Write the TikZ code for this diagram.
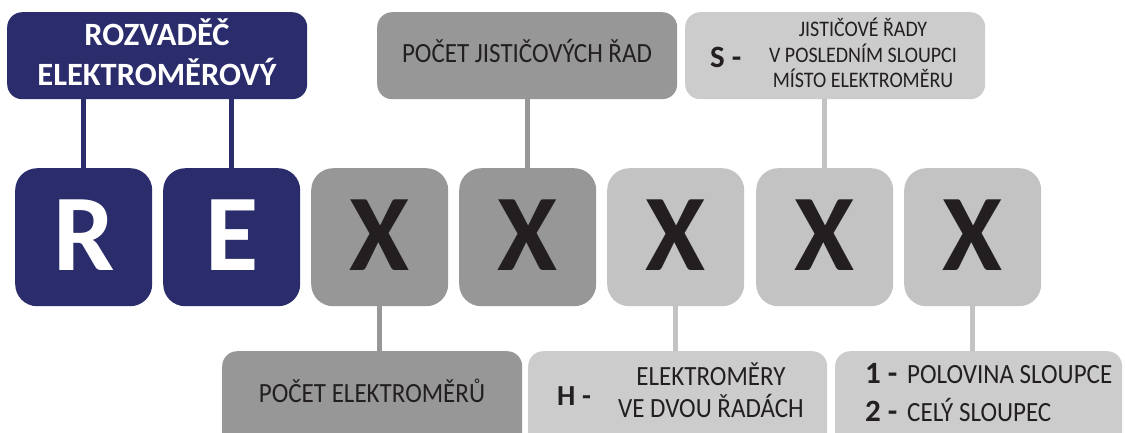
\documentclass[tikz,border=0pt]{standalone}
\usepackage{fontspec}
\setmainfont{Carlito}
\newfontfamily\condfont{Carlito}[FakeStretch=0.9]
\definecolor{navy}{HTML}{2A2C6B}
\definecolor{dgray}{HTML}{979797}
\definecolor{lgray}{HTML}{C3C3C3}
\definecolor{pgray}{HTML}{CCCCCC}
\definecolor{ink}{HTML}{231F20}
\tikzset{
  letterbox/.style={rounded corners=22pt, minimum width=137pt, minimum height=138pt, inner sep=0pt, anchor=north west},
  labelbox/.style={rounded corners=15pt, inner sep=0pt, anchor=north west},
  bigletter/.style={anchor=base, inner sep=0pt, font=\bfseries\fontsize{109}{109}\selectfont},
  txt/.style={inner sep=0pt, text=ink, font=\condfont\fontsize{27.8}{27.8}\selectfont},
  smalltxt/.style={inner sep=0pt, text=ink, font=\condfont\fontsize{22.2}{22.2}\selectfont},
  boldtxt/.style={inner sep=0pt, text=ink, anchor=base west, font=\bfseries\fontsize{31}{31}\selectfont},
  conn/.style={line width=4.5pt}
}
\begin{document}
\begin{tikzpicture}[x=1pt,y=-1pt]
\useasboundingbox (0,0) rectangle (1125,432);
% top label boxes
\node[labelbox, fill=navy, minimum width=300pt, minimum height=87pt] (title) at (7,12) {};
\node[labelbox, fill=dgray, minimum width=300pt, minimum height=87pt] (jist) at (377,12) {};
\node[labelbox, fill=pgray, minimum width=300pt, minimum height=87pt] (sbox) at (685,12) {};
% letter boxes
\node[letterbox, fill=navy] (r) at (15,168) {};
\node[letterbox, fill=navy] (e) at (163,168) {};
\node[letterbox, fill=dgray] (x1) at (311,168) {};
\node[letterbox, fill=dgray] (x2) at (459,168) {};
\node[letterbox, fill=lgray] (x3) at (607,168) {};
\node[letterbox, fill=lgray] (x4) at (756,168) {};
\node[letterbox, fill=lgray] (x5) at (904,168) {};
% bottom label boxes
\node[labelbox, fill=dgray, minimum width=300pt, minimum height=100pt] (pe) at (222,351) {};
\node[labelbox, fill=pgray, minimum width=299pt, minimum height=100pt] (hbox) at (528,351) {};
\node[labelbox, fill=pgray, minimum width=287pt, minimum height=100pt] (nbox) at (835,351) {};
% connectors
\draw[conn, navy] (title.south -| r.center) -- (r.north);
\draw[conn, navy] (title.south -| e.center) -- (e.north);
\draw[conn, dgray] (jist.south -| x2.center) -- (x2.north);
\draw[conn, lgray] (sbox.south -| x4.center) -- (x4.north);
\draw[conn, dgray] (x1.south) -- (x1.south |- pe.north);
\draw[conn, lgray] (x3.south) -- (x3.south |- hbox.north);
\draw[conn, lgray] (x5.south) -- (x5.south |- nbox.north);
% big letters
\node[bigletter, text=white] (lr) at (r.center |- 0,270) {R};
\node[bigletter, text=white] (le) at (e.center |- 0,270) {E};
\node[bigletter, text=ink] (lx1) at (x1.center |- 0,270) {X};
\node[bigletter, text=ink] (lx2) at (x2.center |- 0,270) {X};
\node[bigletter, text=ink] (lx3) at (x3.center |- 0,270) {X};
\node[bigletter, text=ink] (lx4) at (x4.center |- 0,270) {X};
\node[bigletter, text=ink] (lx5) at (x5.center |- 0,270) {X};
% title text
\node[inner sep=0pt, anchor=base, text=white, font=\bfseries\fontsize{32.5}{32.5}\selectfont] (t1) at (157,45) {ROZVADĚČ};
\node[inner sep=0pt, anchor=base, text=white, font=\bfseries\fontsize{32.5}{32.5}\selectfont] (t2) at (157,85) {ELEKTROMĚROVÝ};
% jisticove rady
\node[txt, anchor=base] (j1) at (527,62) {POČET JISTIČOVÝCH ŘAD};
% S box
\node[boldtxt] (s0) at (710,67) {S -};
\node[smalltxt, anchor=base] (s1) at (863,36) {JISTIČOVÉ ŘADY};
\node[smalltxt, anchor=base] (s2) at (863,62) {V POSLEDNÍM SLOUPCI};
\node[smalltxt, anchor=base] (s3) at (863,87) {MÍSTO ELEKTROMĚRU};
% bottom texts
\node[txt, anchor=base] (p1) at (372,402) {POČET ELEKTROMĚRŮ};
\node[boldtxt, font=\bfseries\fontsize{29}{29}\selectfont] (h0) at (557,405) {H -};
\node[txt, anchor=base] (h1) at (711,385) {ELEKTROMĚRY};
\node[txt, anchor=base] (h2) at (711,417) {VE DVOU ŘADÁCH};
\node[boldtxt] (n1) at (865,383) {1 -};
\node[txt, anchor=base west] (n1t) at (907,383) {POLOVINA SLOUPCE};
\node[boldtxt] (n2) at (865,421) {2 -};
\node[txt, anchor=base west] (n2t) at (907,421) {CELÝ SLOUPEC};
\end{tikzpicture}
\end{document}
